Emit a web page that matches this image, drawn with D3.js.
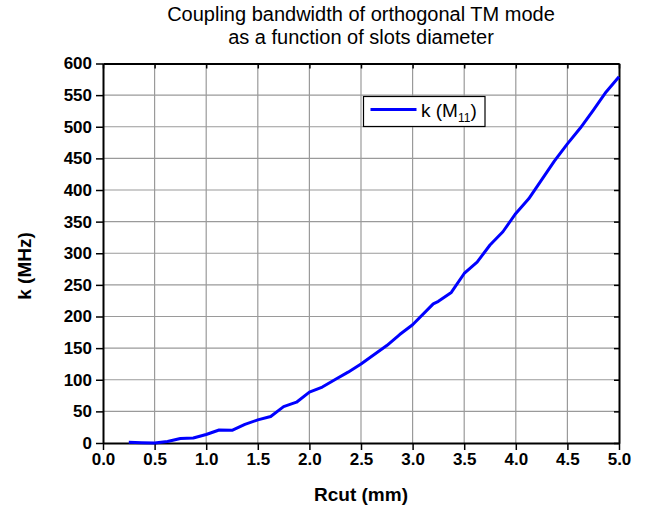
<!DOCTYPE html>
<html>
<head>
<meta charset="utf-8">
<script src="https://cdn.jsdelivr.net/npm/d3@7"></script>
<style>
  html, body { margin: 0; padding: 0; background: #fff; }
  svg { display: block; font-family: "Liberation Sans", Arial, Helvetica, sans-serif; }
</style>
</head>
<body>
<svg id="chart" width="652" height="512"></svg>
<script>
// ---- data ----
const titleLines = ["Coupling bandwidth of orthogonal TM mode", "as a function of slots diameter"];
const xLabel = "Rcut (mm)";
const yLabel = "k (MHz)";
const seriesName = "k (M";
const seriesSub = "11";
const rcut = [0.25, 0.375, 0.5, 0.625, 0.75, 0.875, 1.0, 1.125, 1.25, 1.375, 1.5, 1.625, 1.75, 1.875,
              2.0, 2.125, 2.25, 2.375, 2.5, 2.625, 2.75, 2.875, 3.0, 3.2, 3.25, 3.375, 3.5, 3.625,
              3.75, 3.875, 4.0, 4.125, 4.25, 4.375, 4.5, 4.625, 4.75, 4.875, 5.0];
const kM11 = [1, 0.5, 0, 2.5, 7, 8, 13.5, 20.5, 20, 29.5, 36.5, 42, 57.5, 64.5,
              80.5, 88.5, 100.5, 112, 125, 139.5, 154, 171.5, 187, 220, 224, 238, 268, 286,
              313, 334, 363, 386, 416, 446, 473, 498, 526, 555, 579];
const xTicks = [0, 0.5, 1.0, 1.5, 2.0, 2.5, 3.0, 3.5, 4.0, 4.5, 5.0];
const yTicks = [0, 50, 100, 150, 200, 250, 300, 350, 400, 450, 500, 550, 600];

// ---- layout ----
const svg = d3.select("#chart");
const L = 103, R = 619, T = 63.5, B = 443;
const x = d3.scaleLinear().domain([0, 5]).range([L, R]);
const y = d3.scaleLinear().domain([0, 600]).range([B, T]);

// gridlines
const grid = svg.append("g").attr("stroke", "#9a9a9a").attr("stroke-width", 1.2);
grid.selectAll("line.v").data(xTicks.slice(1, -1)).enter().append("line")
  .attr("x1", d => x(d)).attr("x2", d => x(d)).attr("y1", T).attr("y2", B);
grid.selectAll("line.h").data(yTicks.slice(1, -1)).enter().append("line")
  .attr("x1", L).attr("x2", R).attr("y1", d => y(d)).attr("y2", d => y(d));

// axes
const xAxis = d3.axisBottom(x).tickValues(xTicks).tickFormat(d3.format(".1f")).tickSizeOuter(0).tickSizeInner(7).tickPadding(3);
const yAxis = d3.axisLeft(y).tickValues(yTicks).tickFormat(d3.format("d")).tickSizeOuter(0).tickSizeInner(7).tickPadding(4);
const xTop = d3.axisTop(x).tickValues(xTicks).tickFormat("").tickSizeOuter(0).tickSizeInner(-5);
const yRight = d3.axisRight(y).tickValues(yTicks).tickFormat("").tickSizeOuter(0).tickSizeInner(-5);

function styleAxis(g) {
  g.selectAll("path").attr("stroke", "#000").attr("stroke-width", 2);
  g.selectAll("line").attr("stroke", "#000").attr("stroke-width", 1.5);
  g.selectAll("text").attr("fill", "#000").style("font-size", "17px").style("font-weight", "bold")
    .style("font-family", '"Liberation Sans", Arial, sans-serif');
}
svg.append("g").attr("transform", `translate(0,${B})`).call(xAxis).call(styleAxis);
svg.append("g").attr("transform", `translate(${L},0)`).call(yAxis).call(styleAxis);
svg.append("g").attr("transform", `translate(0,${T})`).call(xTop).call(styleAxis);
svg.append("g").attr("transform", `translate(${R},0)`).call(yRight).call(styleAxis);

// line
const data = rcut.map((d, i) => ({ x: d, y: kM11[i] }));
svg.append("path").datum(data)
  .attr("fill", "none").attr("stroke", "#0000ff").attr("stroke-width", 3)
  .attr("stroke-linejoin", "round")
  .attr("d", d3.line().x(d => x(d.x)).y(d => y(d.y)));

// title
svg.append("text").attr("x", 361).attr("y", 21).attr("text-anchor", "middle")
  .style("font-size", "20px").text(titleLines[0]);
svg.append("text").attr("x", 361).attr("y", 44).attr("text-anchor", "middle")
  .style("font-size", "20px").text(titleLines[1]);

// axis titles
svg.append("text").attr("x", 361).attr("y", 501).attr("text-anchor", "middle")
  .style("font-size", "19px").style("font-weight", "bold").text(xLabel);
svg.append("text").attr("transform", "translate(31,266) rotate(-90)").attr("text-anchor", "middle")
  .style("font-size", "19px").style("font-weight", "bold").text(yLabel);

// legend
const lg = svg.append("g");
lg.append("rect").attr("x", 363.5).attr("y", 96.5).attr("width", 121.5).attr("height", 30)
  .attr("fill", "#fff").attr("stroke", "#000").attr("stroke-width", 1.2);
lg.append("line").attr("x1", 370.5).attr("x2", 416.5).attr("y1", 109.5).attr("y2", 109.5)
  .attr("stroke", "#0000ff").attr("stroke-width", 3);
const lt = lg.append("text").attr("x", 421).attr("y", 117).style("font-size", "19px");
lt.append("tspan").text(seriesName);
lt.append("tspan").attr("dy", 5).style("font-size", "12px").text(seriesSub);
lt.append("tspan").attr("dy", -5).text(")");
</script>
</body>
</html>
